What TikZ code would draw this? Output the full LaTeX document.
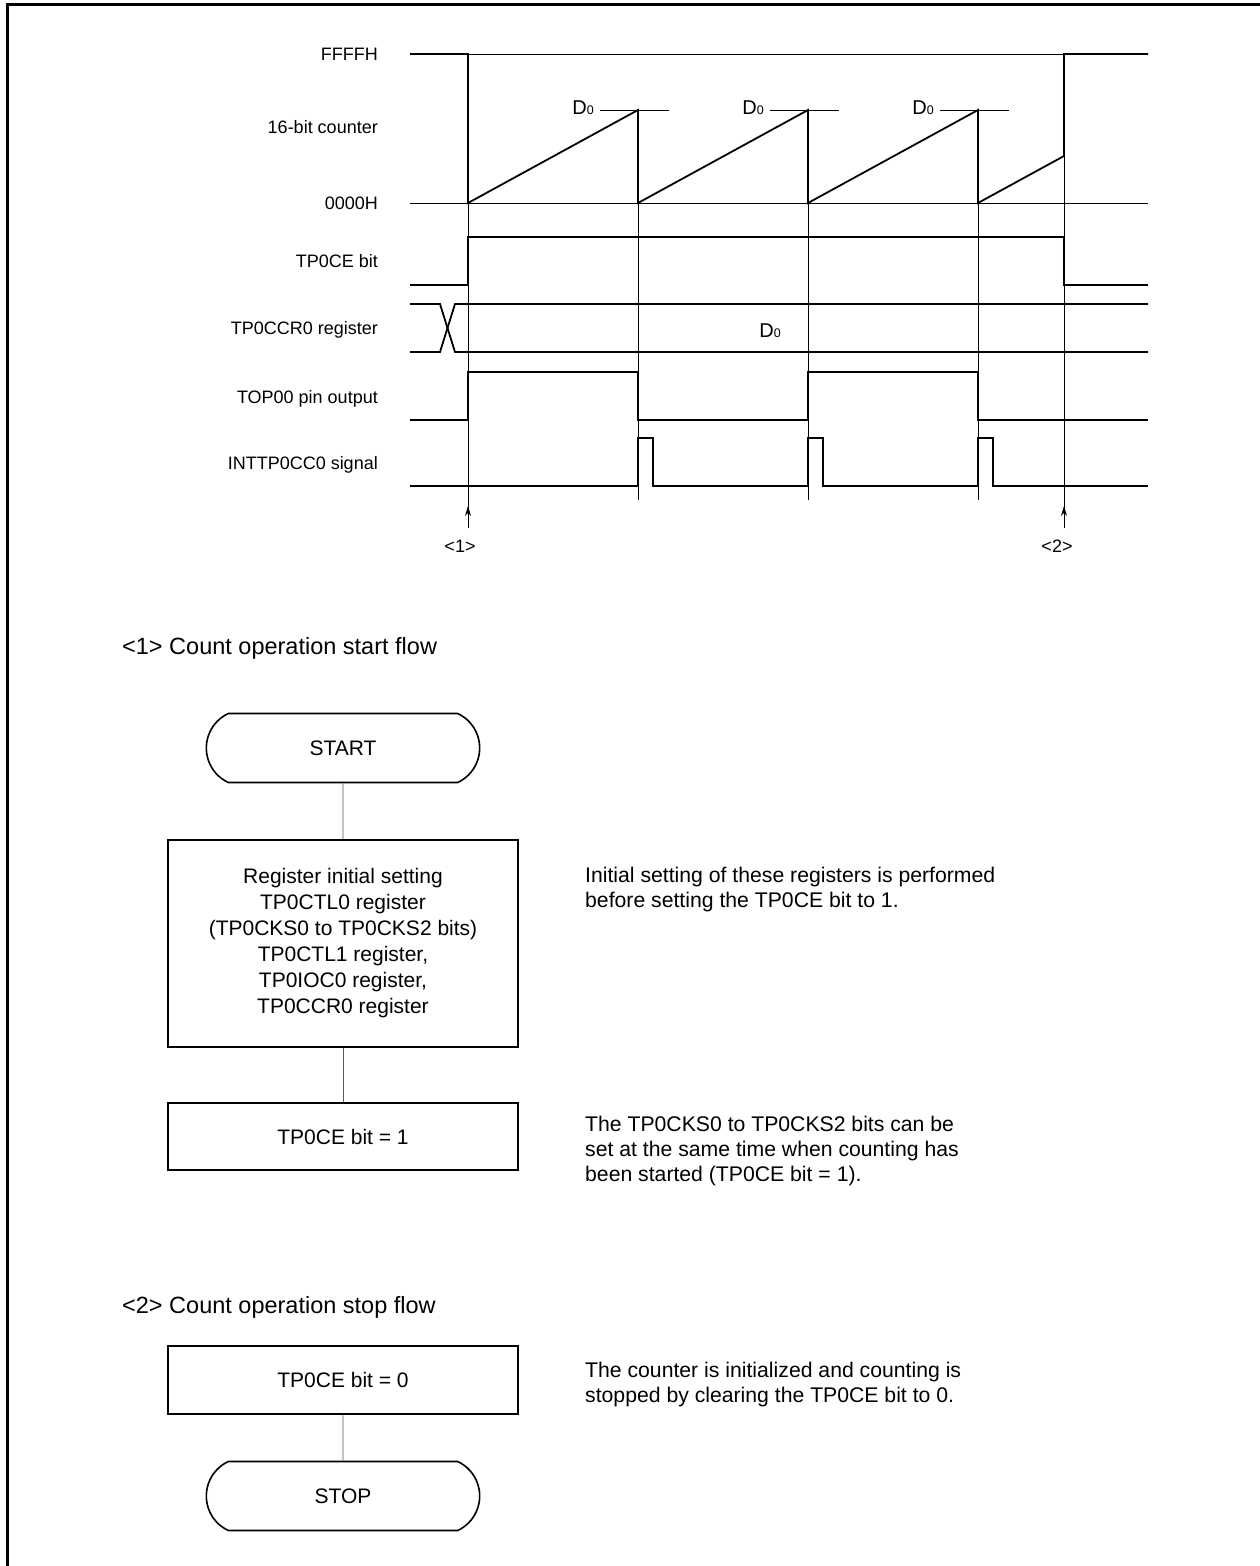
\documentclass[tikz,border=0pt]{standalone}
\usepackage{fontspec}
\setmainfont{Liberation Sans}
\usetikzlibrary{arrows.meta,shapes.misc}
\newcommand{\Dzero}{D{\fontsize{12.5}{12.5}\selectfont 0}}
\begin{document}
\begin{tikzpicture}[x=1pt,y=-1pt,
  sig/.style={line width=1.8pt, line join=miter},
  ref/.style={line width=0.8pt},
  lbl/.style={anchor=base east, inner sep=0pt, font=\fontsize{18}{22}\selectfont},
  dlbl/.style={anchor=base, inner sep=0pt, font=\fontsize{20}{22}\selectfont},
  mlbl/.style={inner sep=0pt, font=\fontsize{18}{22}\selectfont},
  head/.style={anchor=base west, inner sep=0pt, font=\fontsize{23.5}{26}\selectfont},
  term/.style={rounded rectangle, rounded rectangle arc length=130, draw, line width=1.6pt,
    minimum width=280pt, minimum height=69pt, font=\fontsize{21}{26}\selectfont},
  proc/.style={rectangle, draw, line width=1.6pt, minimum width=350pt, align=center,
    font=\fontsize{21}{26}\selectfont},
  link/.style={line width=0.8pt, draw=black!65},
  note/.style={anchor=north west, inner sep=0pt, align=left, font=\fontsize{21.2}{25}\selectfont},
  upar/.style={ref, -{Stealth[length=10pt,width=6pt]}},
]
\useasboundingbox (0,0) rectangle (1260,1566);
% frame
\draw[line width=3pt] (7,1570) -- (7,4.5) -- (1264,4.5);

% ---- timing labels
\node[lbl] (lffff) at (378,60.5) {FFFFH};
\node[lbl] (lcnt) at (378,133.5) {16-bit counter};
\node[lbl] (l0000) at (378,209.5) {0000H};
\node[lbl] (lce) at (378,267.5) {TP0CE bit};
\node[lbl] (lccr) at (378,334.5) {TP0CCR0 register};
\node[lbl] (ltop) at (378,403.5) {TOP00 pin output};
\node[lbl] (lint) at (378,469.5) {INTTP0CC0 signal};

% ---- reference lines
\draw[ref] (468,54) -- (1064,54);
\draw[ref] (410,203) -- (1148,203);
\draw[ref] (600,110) -- (669,110);
\draw[ref] (770,110) -- (839,110);
\draw[ref] (940,110) -- (1009,110);
\node[dlbl] (d1) at (583,114) {\Dzero};
\node[dlbl] (d2) at (753,114) {\Dzero};
\node[dlbl] (d3) at (923,114) {\Dzero};

% ---- guides
\draw[ref] (468,54) -- (468,512);
\draw[ref] (638,110) -- (638,500);
\draw[ref] (808,110) -- (808,500);
\draw[ref] (978,110) -- (978,500);
\draw[ref] (1064,54) -- (1064,512);
\draw[upar] (468,528) -- (468,506);
\draw[upar] (1064,528) -- (1064,506);
\node[mlbl] (m1) at (460,546) {<1>};
\node[mlbl] (m2) at (1057,546) {<2>};

% ---- counter
\draw[sig] (410,54) -- (468,54) -- (468,203) -- (638,110) -- (638,203) -- (808,110) -- (808,203)
  -- (978,110) -- (978,203) -- (1064,156) -- (1064,54) -- (1148,54);
% ---- TP0CE
\draw[sig] (410,285) -- (468,285) -- (468,237) -- (1064,237) -- (1064,285) -- (1148,285);
% ---- TP0CCR0
\draw[sig] (410,304) -- (440,304) -- (455,352) -- (1148,352);
\draw[sig] (410,352) -- (440,352) -- (455,304) -- (1148,304);
\node[dlbl] (dccr) at (770,337) {\Dzero};
% ---- TOP00
\draw[sig] (410,420) -- (468,420) -- (468,372) -- (638,372) -- (638,420) -- (808,420)
  -- (808,372) -- (978,372) -- (978,420) -- (1148,420);
% ---- INTTP0CC0
\draw[sig] (410,486) -- (638,486) -- (638,438) -- (653,438) -- (653,486) -- (808,486)
  -- (808,438) -- (823,438) -- (823,486) -- (978,486) -- (978,438) -- (993,438) -- (993,486) -- (1148,486);

% ---- flow 1
\node[head] (h1) at (122,654) {<1> Count operation start flow};
\node[term] (start) at (343,748) {START};
\node[proc, minimum height=207pt] (init) at (343,943.5) {Register initial setting\\TP0CTL0 register\\(TP0CKS0 to TP0CKS2 bits)\\TP0CTL1 register,\\TP0IOC0 register,\\TP0CCR0 register};
\node[proc, minimum height=67pt] (ce1) at (343,1136.5) {TP0CE bit = 1};
\draw[link] (start) -- (init);
\draw[link] (init) -- (ce1);
\node[note] (n1) at (585,867) {Initial setting of these registers is performed\\before setting the TP0CE bit to 1.};
\node[note] (n2) at (585,1116) {The TP0CKS0 to TP0CKS2 bits can be\\set at the same time when counting has\\been started (TP0CE bit = 1).};

% ---- flow 2
\node[head] (h2) at (122,1313) {<2> Count operation stop flow};
\node[proc, minimum height=68pt] (ce0) at (343,1380) {TP0CE bit = 0};
\node[term] (stop) at (343,1496) {STOP};
\draw[link] (ce0) -- (stop);
\node[note] (n3) at (585,1362) {The counter is initialized and counting is\\stopped by clearing the TP0CE bit to 0.};
\end{tikzpicture}
\end{document}
